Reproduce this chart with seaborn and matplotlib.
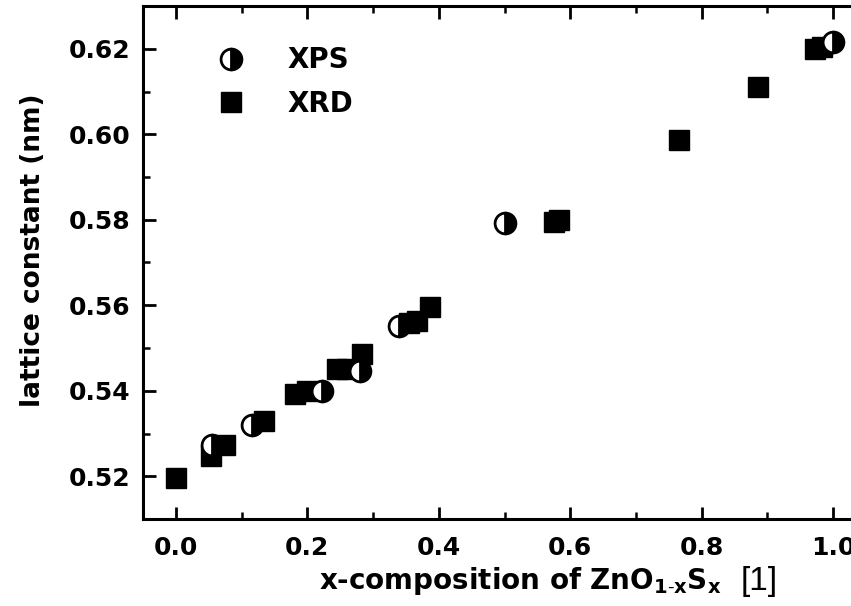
import matplotlib
matplotlib.use("Agg")
import matplotlib.pyplot as plt
import seaborn as sns
import pandas as pd
from matplotlib.ticker import MultipleLocator

# ---- data ----
xps_x = [0.055, 0.116, 0.222, 0.280, 0.339, 0.501, 1.000]
xps_y = [0.5272, 0.5319, 0.5399, 0.5446, 0.5552, 0.5792, 0.6216]

xrd_x = [0.000, 0.053, 0.075, 0.134, 0.181, 0.199, 0.245, 0.260, 0.283,
         0.355, 0.367, 0.387, 0.575, 0.583, 0.766, 0.886, 0.973, 0.983]
xrd_y = [0.5195, 0.5247, 0.5272, 0.5329, 0.5392, 0.5399, 0.5451, 0.5451, 0.5486,
         0.5559, 0.5564, 0.5595, 0.5795, 0.5799, 0.5987, 0.6110, 0.6199, 0.6204]

x_ticks = [0.0, 0.2, 0.4, 0.6, 0.8, 1.0]
y_ticks = [0.52, 0.54, 0.56, 0.58, 0.60, 0.62]
x_label = r"x-composition of ZnO$_{\mathbf{1\text{-}x}}$S$_{\mathbf{x}}$"
x_unit = "[1]"
y_label = "lattice constant (nm)"
series_names = ["XPS", "XRD"]

sns.set_theme(style="ticks")
plt.rcParams["font.family"] = ["DejaVu Sans"]
plt.rcParams["mathtext.fontset"] = "custom"
plt.rcParams["mathtext.bf"] = "DejaVu Sans:bold"
plt.rcParams["mathtext.rm"] = "Liberation Sans"
plt.rcParams["mathtext.it"] = "DejaVu Sans:italic"
for k in ["text.color", "axes.labelcolor", "xtick.color", "ytick.color",
          "axes.edgecolor"]:
    plt.rcParams[k] = "black"

fig = plt.figure(figsize=(8.51, 6.06), dpi=100)
ax = fig.add_axes([143 / 851, 87 / 606, 723 / 851, 513 / 606])

df_xrd = pd.DataFrame({"x": xrd_x, "y": xrd_y})
df_xps = pd.DataFrame({"x": xps_x, "y": xps_y})

sns.lineplot(data=df_xrd, x="x", y="y", ax=ax, estimator=None, sort=False,
             linestyle="", marker="s", markersize=15, color="black",
             markeredgecolor="black", markeredgewidth=1.0, label=series_names[1])
sns.lineplot(data=df_xps, x="x", y="y", ax=ax, estimator=None, sort=False,
             linestyle="", marker="o", markersize=15, color="black",
             markeredgecolor="black", markeredgewidth=2.0, fillstyle="right",
             markerfacecoloralt="white", label=series_names[0])

ax.set_xlim(-0.05, 1.05)
ax.set_ylim(0.51, 0.63)
ax.set_xticks(x_ticks)
ax.set_xticklabels([f"{v:.1f}" for v in x_ticks])
ax.set_yticks(y_ticks)
ax.set_yticklabels([f"{v:.2f}" for v in y_ticks])
ax.xaxis.set_minor_locator(MultipleLocator(0.1))
ax.yaxis.set_minor_locator(MultipleLocator(0.01))

for s in ax.spines.values():
    s.set_linewidth(2.2)
    s.set_color("black")

ax.tick_params(which="major", direction="in", length=9, width=2, top=True,
               right=False, labelsize=18, colors="black")
ax.tick_params(axis="x", which="major", pad=12)
ax.tick_params(axis="y", which="major", pad=9)
ax.tick_params(which="minor", direction="in", length=5, width=1.8, top=True,
               right=False)
for lab in ax.get_xticklabels() + ax.get_yticklabels():
    lab.set_fontweight("bold")

ax.set_xlabel(x_label, fontsize=20, fontweight="bold")
ax.xaxis.set_label_coords(0.522, -0.09)
ax.annotate(x_unit, xy=(1, 0.5), xycoords=ax.xaxis.label,
            xytext=(14, 0), textcoords="offset points", ha="left", va="center",
            fontsize=24, fontfamily="Liberation Sans", fontweight="normal")
ax.set_ylabel(y_label, fontsize=19, fontweight="bold")
ax.yaxis.set_label_coords(-0.134, 0.524)

h, l = ax.get_legend_handles_labels()
order = [l.index("XPS"), l.index("XRD")]
leg = ax.legend([h[i] for i in order], [l[i] for i in order],
                loc="upper left", bbox_to_anchor=(0.058, 0.97), frameon=False,
                prop={"weight": "bold", "size": 20}, handletextpad=1.3,
                labelspacing=0.55, handlelength=1.5)

ax.grid(False)
fig.savefig("out.png", dpi=100, facecolor="white")
